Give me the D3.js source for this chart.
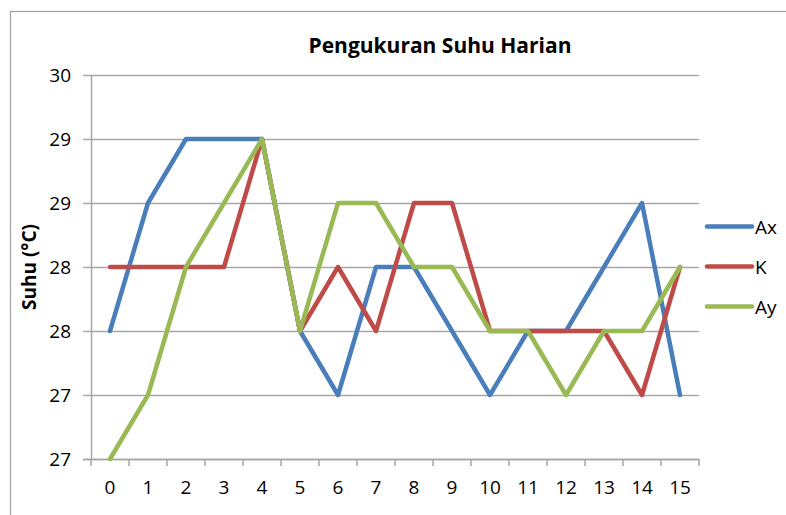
<!DOCTYPE html>
<html>
<head>
<meta charset="utf-8">
<script src="https://cdn.jsdelivr.net/npm/d3@7"></script>
<style>
  body { margin: 0; background: #fff; }
  text { font-family: "Open Sans", Lato, sans-serif; fill: #000; }
</style>
</head>
<body>
<svg id="chart" width="786" height="515"></svg>
<script>
// data
const days = ["0","1","2","3","4","5","6","7","8","9","10","11","12","13","14","15"];
const ax = [28, 29, 29.5, 29.5, 29.5, 28, 27.5, 28.5, 28.5, 28, 27.5, 28, 28, 28.5, 29, 27.5];
const k  = [28.5, 28.5, 28.5, 28.5, 29.5, 28, 28.5, 28, 29, 29, 28, 28, 28, 28, 27.5, 28.5];
const ay = [27, 27.5, 28.5, 29, 29.5, 28, 29, 29, 28.5, 28.5, 28, 28, 27.5, 28, 28, 28.5];
const yTicks = [27, 27.5, 28, 28.5, 29, 29.5, 30];
const yTickLabels = ["27", "27", "28", "28", "29", "29", "30"];
const seriesNames = ["Ax", "K", "Ay"];
const colors = ["#4A7EBB", "#BE4B48", "#98B954"];

const series = [ax, k, ay].map((vals, i) => ({ name: seriesNames[i], values: vals, color: colors[i] }));

const svg = d3.select("#chart");

// chart border
svg.append("rect")
    .attr("x", 10.5).attr("y", 11.5)
    .attr("width", 800).attr("height", 520)
    .attr("fill", "none")
    .attr("stroke", "#a0a0a0")
    .attr("stroke-width", 1.2);

const margin = { top: 75, left: 91, right: 699, bottom: 459 };

const xScale = d3.scaleBand()
    .domain(days)
    .range([margin.left, margin.right])
    .padding(0);

const yScale = d3.scaleLinear()
    .domain([27, 30])
    .range([margin.bottom, margin.top]);

// grid
svg.append("g")
    .selectAll("line")
    .data(yTicks)
    .enter()
    .append("line")
    .attr("x1", margin.left - 8)
    .attr("x2", margin.right)
    .attr("y1", d => Math.round(yScale(d)) + 0.5)
    .attr("y2", d => Math.round(yScale(d)) + 0.5)
    .attr("stroke", "#a6a6a6")
    .attr("stroke-width", 1.5);

// y axis
const yAxis = d3.axisLeft(yScale)
    .tickValues(yTicks)
    .tickSize(0)
    .tickPadding(20)
    .tickFormat((d, i) => yTickLabels[i]);

const gy = svg.append("g")
    .attr("transform", `translate(${margin.left},0)`)
    .call(yAxis);
gy.select(".domain").attr("stroke", "#a6a6a6").attr("stroke-width", 1.5);
gy.selectAll("text").style("font-size", "19px").attr("fill", "#000");

// x axis
const xAxis = d3.axisBottom(xScale)
    .tickSize(0)
    .tickPadding(22);

const gx = svg.append("g")
    .attr("transform", `translate(0,${margin.bottom})`)
    .call(xAxis);
gx.select(".domain").remove();
gx.selectAll("text").style("font-size", "19px").attr("fill", "#000");

gx.append("line")
    .attr("x1", margin.left - 8).attr("x2", margin.right)
    .attr("y1", 0.5).attr("y2", 0.5)
    .attr("stroke", "#a6a6a6").attr("stroke-width", 1.5);

gx.selectAll(".boundary")
    .data(d3.range(days.length + 1))
    .enter()
    .append("line")
    .attr("class", "boundary")
    .attr("x1", i => margin.left + i * xScale.bandwidth())
    .attr("x2", i => margin.left + i * xScale.bandwidth())
    .attr("y1", 0).attr("y2", 7)
    .attr("stroke", "#a6a6a6").attr("stroke-width", 1.5);

// lines
const line = d3.line()
    .x((d, i) => xScale(days[i]) + xScale.bandwidth() / 2)
    .y(d => yScale(d));

svg.append("g")
    .selectAll("path")
    .data(series)
    .enter()
    .append("path")
    .attr("d", d => line(d.values))
    .attr("fill", "none")
    .attr("stroke", d => d.color)
    .attr("stroke-width", 4.5)
    .attr("stroke-linejoin", "round")
    .attr("stroke-linecap", "round");

// title
svg.append("text")
    .attr("x", 440).attr("y", 53)
    .attr("text-anchor", "middle")
    .style("font-size", "21px")
    .style("font-weight", "bold")
    .text("Pengukuran Suhu Harian");

// y axis title
svg.append("text")
    .attr("transform", "translate(36,267) rotate(-90)")
    .attr("text-anchor", "middle")
    .style("font-size", "19px")
    .style("font-weight", "bold")
    .text("Suhu (°C)");

// legend
const legend = svg.append("g")
    .selectAll("g")
    .data(series)
    .enter()
    .append("g")
    .attr("transform", (d, i) => `translate(707,${226.5 + i * 40})`);

legend.append("line")
    .attr("x1", 0).attr("x2", 45)
    .attr("stroke", d => d.color)
    .attr("stroke-width", 4.5)
    .attr("stroke-linecap", "round");

legend.append("text")
    .attr("x", 48).attr("y", 7)
    .style("font-size", "19px")
    .text(d => d.name);
</script>
</body>
</html>
